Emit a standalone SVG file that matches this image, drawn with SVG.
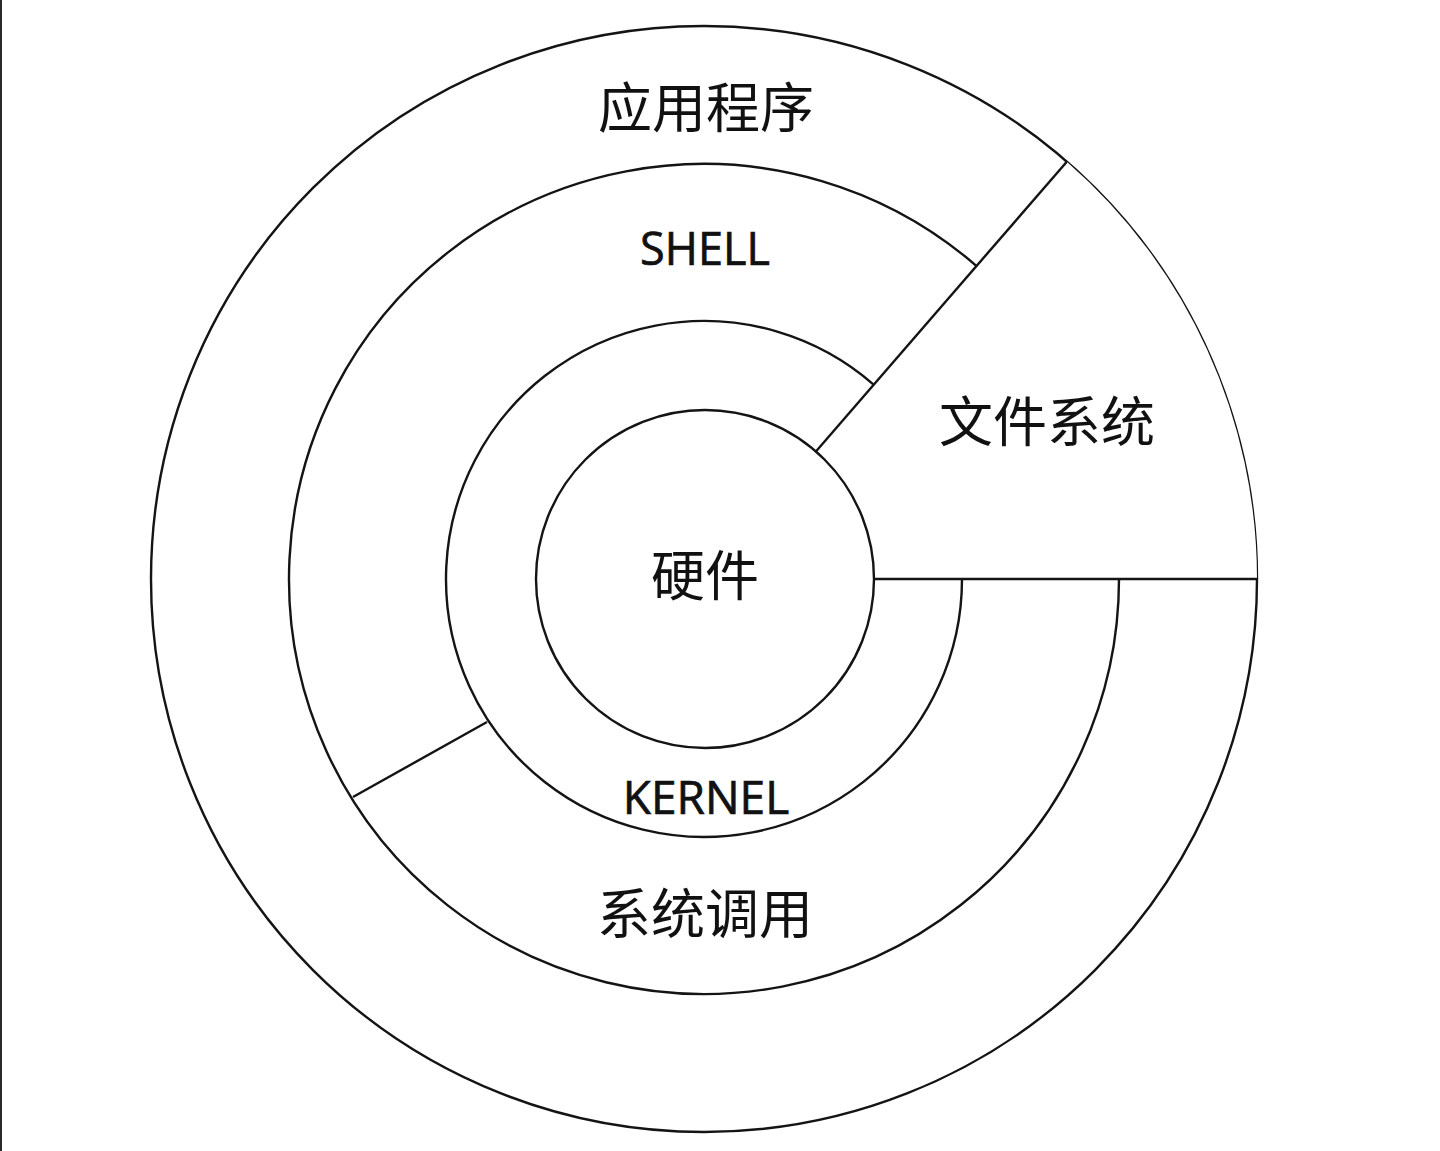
<svg xmlns="http://www.w3.org/2000/svg" width="1440" height="1151" viewBox="0 0 1440 1151">
  <style>
    .ln { fill: none; stroke: #141414; stroke-width: 2.4; }
    .cjk { font-family: "Noto Sans CJK SC", "Noto Sans", sans-serif; font-size: 54px; fill: #111; text-anchor: middle; }
    .lat { font-family: "Open Sans", "Noto Sans", sans-serif; fill: #111; stroke: #111; stroke-width: 0.7; text-anchor: middle; }
  </style>
  <rect x="0" y="0" width="1440" height="1151" fill="#ffffff"/>
  <rect x="0" y="0" width="2" height="1151" fill="#2a2a2a"/>

  <g id="app">
    <circle cx="704" cy="579" r="553" fill="#f4f4f4" class="ln"/>
    <text class="cjk" x="706" y="128">应用程序</text>
  </g>

  <g id="shell">
    <circle cx="704" cy="579" r="415" fill="#ffffff"/>
    <path class="ln" d="M 976.3,265.8 A 415 415 0 1 0 1119,579"/>
    <text class="lat" x="705" y="265" font-size="45">SHELL</text>
  </g>

  <g id="filesystem">
    <path d="M 874,579 L 1257,579 A 553 553 0 0 0 1066.8,161.7 L 815.9,451.5 A 169 169 0 0 1 874,579 Z" fill="#ffffff"/>
    <text class="cjk" x="1047" y="442">文件系统</text>
  </g>

  <g id="kernel">
    <path class="ln" d="M 873.3,384.3 A 258 258 0 1 0 962,579"/>
    <text class="lat" x="706" y="814" font-size="46">KERNEL</text>
  </g>

  <g id="syscall">
    <text class="cjk" x="705" y="934">系统调用</text>
  </g>

  <g id="hardware">
    <circle cx="705" cy="579" r="169" fill="#f8f8f8" class="ln"/>
    <text class="cjk" x="705" y="596">硬件</text>
  </g>

  <g id="connectors">
    <line class="ln" x1="1066.8" y1="161.7" x2="815.9" y2="451.5"/>
    <line class="ln" x1="874" y1="579" x2="1257" y2="579"/>
    <line class="ln" x1="353" y1="797" x2="487" y2="722"/>
  </g>
</svg>
